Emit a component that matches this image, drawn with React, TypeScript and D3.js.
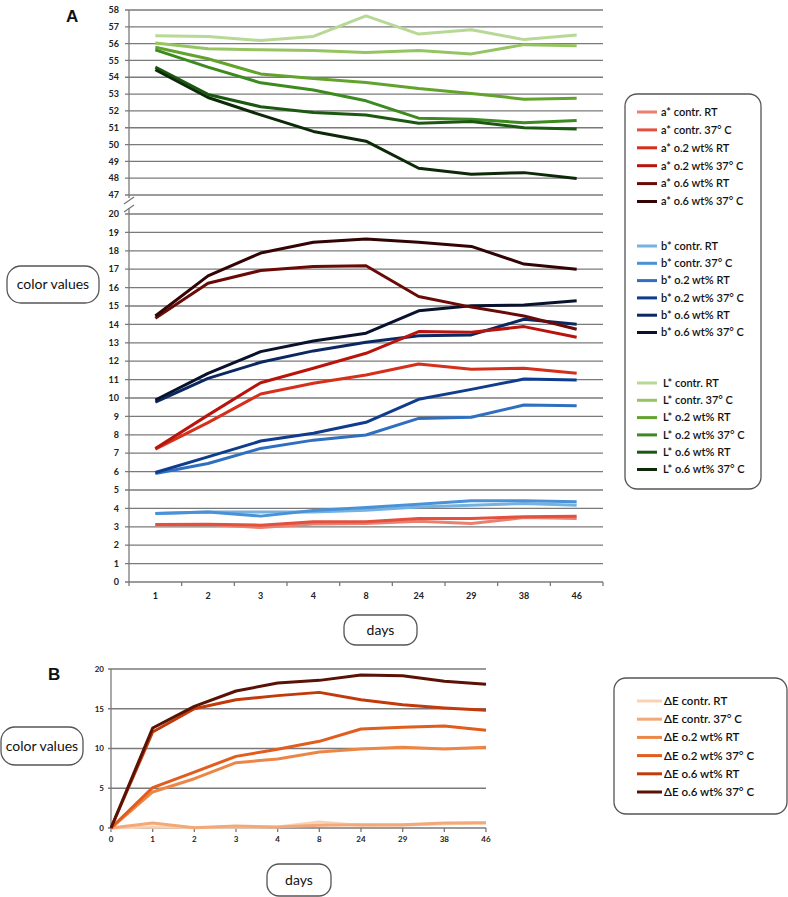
import React from "react";
import * as d3 from "d3";

const daysA = ["1", "2", "3", "4", "8", "24", "29", "38", "46"];
const daysB = ["0", "1", "2", "3", "4", "8", "24", "29", "38", "46"];

const upperTicks = [47, 48, 49, 50, 51, 52, 53, 54, 55, 56, 57, 58];
const lowerTicks = d3.range(0, 21);
const bTicks = [0, 5, 10, 15, 20];

// a* series
const aContrRT = [3.1, 3.12, 2.96, 3.15, 3.18, 3.3, 3.18, 3.5, 3.45];
const aContr37 = [3.12, 3.14, 3.09, 3.27, 3.27, 3.45, 3.45, 3.54, 3.58];
const a02RT = [7.22, 8.66, 10.22, 10.8, 11.25, 11.85, 11.56, 11.62, 11.34];
const a0237 = [7.26, 9.07, 10.83, 11.62, 12.43, 13.61, 13.57, 13.88, 13.3];
const a06RT = [14.34, 16.24, 16.93, 17.15, 17.19, 15.52, 14.94, 14.46, 13.74];
const a0637 = [14.46, 16.64, 17.88, 18.46, 18.64, 18.46, 18.24, 17.28, 17.0];

// b* series
const bContrRT = [3.72, 3.81, 3.81, 3.81, 3.9, 4.08, 4.17, 4.26, 4.17];
const bContr37 = [3.72, 3.81, 3.58, 3.88, 4.05, 4.23, 4.41, 4.41, 4.36];
const b02RT = [5.9, 6.44, 7.26, 7.71, 7.99, 8.89, 8.95, 9.62, 9.58];
const b0237 = [5.95, 6.8, 7.66, 8.08, 8.68, 9.93, 10.47, 11.03, 10.98];
const b06RT = [9.78, 11.07, 11.94, 12.56, 13.03, 13.38, 13.43, 14.28, 14.01];
const b0637 = [9.89, 11.34, 12.52, 13.1, 13.52, 14.74, 15.01, 15.06, 15.28];

// L* series
const LContrRT = [56.47, 56.43, 56.18, 56.43, 57.65, 56.57, 56.82, 56.24, 56.51];
const LContr37 = [56.04, 55.69, 55.63, 55.59, 55.47, 55.59, 55.39, 55.94, 55.88];
const L02RT = [55.78, 55.1, 54.2, 53.92, 53.69, 53.33, 53.04, 52.7, 52.75];
const L0237 = [55.63, 54.6, 53.67, 53.24, 52.6, 51.57, 51.5, 51.3, 51.43];
const L06RT = [54.6, 52.98, 52.25, 51.9, 51.76, 51.27, 51.37, 51.0, 50.92];
const L0637 = [54.45, 52.8, 51.76, 50.78, 50.2, 48.59, 48.24, 48.33, 47.98];

// ΔE series
const eContrRT = [0, 0.13, 0.05, 0.08, 0.13, 0.75, 0.3, 0.34, 0.55, 0.63];
const eContr37 = [0, 0.63, 0.04, 0.25, 0.13, 0.34, 0.42, 0.42, 0.63, 0.67];
const e02RT = [0, 4.53, 6.2, 8.22, 8.68, 9.56, 9.94, 10.15, 9.94, 10.15];
const e0237 = [0, 5.07, 7.04, 9.01, 9.9, 10.9, 12.45, 12.66, 12.83, 12.29];
const e06RT = [0, 12.08, 15.0, 16.14, 16.65, 17.06, 16.14, 15.51, 15.1, 14.8];
const e0637 = [0, 12.58, 15.3, 17.23, 18.24, 18.57, 19.25, 19.16, 18.45, 18.07];

const aNames = ["a* contr. RT", "a* contr. 37° C", "a* o.2 wt% RT", "a* o.2 wt% 37° C", "a* o.6 wt% RT", "a* o.6 wt% 37° C"];
const bNames = ["b* contr. RT", "b* contr. 37° C", "b* o.2 wt% RT", "b*  o.2 wt% 37° C", "b* o.6 wt% RT", "b* o.6 wt% 37° C"];
const LNames = ["L* contr. RT", "L* contr. 37° C", "L* o.2 wt% RT", "L* o.2 wt% 37° C", "L* o.6 wt% RT", "L* o.6 wt% 37° C"];
const eNames = ["ΔE contr. RT", "ΔE contr. 37° C", "ΔE o.2 wt% RT", "ΔE o.2 wt% 37° C", "ΔE o.6 wt% RT", "ΔE o.6 wt% 37° C"];

const aColors = ["#ec8070", "#e2503e", "#d4301c", "#b8140c", "#6a0a06", "#320404"];
const bColors = ["#74b2e2", "#4a92d8", "#2f6fc0", "#0f3c8c", "#0c2862", "#08122c"];
const LColors = ["#b8d895", "#96c462", "#62a32e", "#3c8a20", "#1d5812", "#0c2a08"];
const eColors = ["#f8d2b4", "#f2a878", "#ec8646", "#e25c1c", "#c23a0a", "#5a1206"];

const aSeries = [aContrRT, aContr37, a02RT, a0237, a06RT, a0637];
const bSeries = [bContrRT, bContr37, b02RT, b0237, b06RT, b0637];
const LSeries = [LContrRT, LContr37, L02RT, L0237, L06RT, L0637];
const eSeries = [eContrRT, eContr37, e02RT, e0237, e06RT, e0637];

const FONT = "Lato, 'Open Sans', sans-serif";
const GRID = "#7a7a7a";

function Box({ x, y, w, h, r, label, size }: any) {
  return (
    <g>
      <rect x={x} y={y} width={w} height={h} rx={r} ry={r} fill="#fff" stroke="#555" strokeWidth={1.3} />
      <text x={x + w / 2} y={y + h / 2} dy="0.35em" textAnchor="middle" fontFamily={FONT} fontSize={size} fill="#111">
        {label}
      </text>
    </g>
  );
}

export default function App() {
  // Panel A scales
  const xA = d3.scaleBand().domain(daysA).range([129, 603]);
  const yUp = d3.scaleLinear().domain([47, 58]).range([195, 10]);
  const yLo = d3.scaleLinear().domain([0, 20]).range([582, 214]);
  // Panel B scales
  const xB = d3.scalePoint().domain(daysB).range([111, 486]);
  const yB = d3.scaleLinear().domain([0, 20]).range([828, 669]);

  const lineUp = d3.line<number>().x((_, i) => (xA(daysA[i]) as number) + xA.bandwidth() / 2).y((d) => yUp(d));
  const lineLo = d3.line<number>().x((_, i) => (xA(daysA[i]) as number) + xA.bandwidth() / 2).y((d) => yLo(d));
  const lineB = d3.line<number>().x((_, i) => xB(daysB[i]) as number).y((d) => yB(d));

  const axX = 129;
  const bandEdges = daysA.map((d) => xA(d) as number).concat([603]);

  const legendRow = (names: string[], colors: string[], y0: number, step: number, lx: number, lw: number, tx: number, fs: number) =>
    names.map((n, i) => (
      <g key={n}>
        <line x1={lx} x2={lx + lw} y1={y0 + i * step} y2={y0 + i * step} stroke={colors[i]} strokeWidth={3} />
        <text x={tx} y={y0 + i * step} dy="0.35em" fontFamily={FONT} fontSize={fs} fontWeight={600} fill="#111">
          {n}
        </text>
      </g>
    ));

  return (
    <svg width={788} height={897} style={{ position: "absolute", left: 0, top: 0, background: "#fff" }}>
      <rect x={0} y={0} width={788} height={897} fill="#fff" />
      {/* Panel A */}
      <text x={66} y={22} fontFamily="Arial, 'Liberation Sans', sans-serif" fontWeight="bold" fontSize={17} fill="#111">A</text>
      {/* gridlines upper */}
      {upperTicks.map((t) => (
        <g key={"u" + t}>
          <line x1={axX - 4} x2={603} y1={yUp(t)} y2={yUp(t)} stroke={GRID} strokeWidth={1.3} />
          <text x={119} y={yUp(t)} dy="0.35em" textAnchor="end" fontFamily={FONT} fontWeight={700} fontSize={9} fill="#222">{t}</text>
        </g>
      ))}
      {lowerTicks.map((t) => (
        <g key={"l" + t}>
          <line x1={axX - 4} x2={t === 0 ? 603 : 603} y1={yLo(t)} y2={yLo(t)} stroke={GRID} strokeWidth={1.3} />
          <text x={119} y={yLo(t)} dy="0.35em" textAnchor="end" fontFamily={FONT} fontWeight={700} fontSize={9} fill="#222">{t}</text>
        </g>
      ))}
      {/* y axis with break */}
      <line x1={axX} x2={axX} y1={yUp(58)} y2={198} stroke={GRID} strokeWidth={1.3} />
      <line x1={axX} x2={axX} y1={208} y2={yLo(0)} stroke={GRID} strokeWidth={1.3} />
      <line x1={124} x2={134} y1={204} y2={197} stroke={GRID} strokeWidth={1.3} />
      <line x1={124} x2={134} y1={212} y2={205} stroke={GRID} strokeWidth={1.3} />
      {/* x ticks */}
      {bandEdges.map((e, i) => (
        <line key={"xt" + i} x1={e} x2={e} y1={yLo(0)} y2={yLo(0) + 4} stroke={GRID} strokeWidth={1.3} />
      ))}
      {daysA.map((d) => (
        <text key={"xl" + d} x={(xA(d) as number) + xA.bandwidth() / 2} y={596} dy="0.35em" textAnchor="middle" fontFamily={FONT} fontWeight={700} fontSize={9} fill="#222">{d}</text>
      ))}
      {/* lines */}
      {LSeries.map((s, i) => (
        <path key={"L" + i} d={lineUp(s) as string} fill="none" stroke={LColors[i]} strokeWidth={3} strokeLinejoin="round" />
      ))}
      {bSeries.map((s, i) => (
        <path key={"b" + i} d={lineLo(s) as string} fill="none" stroke={bColors[i]} strokeWidth={3} strokeLinejoin="round" />
      ))}
      {aSeries.map((s, i) => (
        <path key={"a" + i} d={lineLo(s) as string} fill="none" stroke={aColors[i]} strokeWidth={3} strokeLinejoin="round" />
      ))}
      {/* boxes */}
      <Box x={7} y={266} w={92} h={37} r={14} label="color values" size={14} />
      <Box x={344} y={615} w={73} h={30} r={12} label="days" size={14} />
      {/* legend A */}
      <rect x={625} y={94} width={136} height={395} rx={12} ry={12} fill="#fff" stroke="#555" strokeWidth={1.3} />
      {legendRow(aNames, aColors, 112, 17.9, 637, 20, 661, 11)}
      {legendRow(bNames, bColors, 246, 17.3, 637, 20, 661, 11)}
      {legendRow(LNames, LColors, 383, 17.3, 637, 20, 663, 11)}

      {/* Panel B */}
      <text x={48} y={680} fontFamily="Arial, 'Liberation Sans', sans-serif" fontWeight="bold" fontSize={17} fill="#111">B</text>
      {bTicks.map((t) => (
        <g key={"bt" + t}>
          <line x1={108} x2={486} y1={yB(t)} y2={yB(t)} stroke={GRID} strokeWidth={1.3} />
          <text x={104} y={yB(t)} dy="0.35em" textAnchor="end" fontFamily={FONT} fontWeight={700} fontSize={8} fill="#222">{t}</text>
        </g>
      ))}
      <line x1={111} x2={111} y1={yB(20)} y2={yB(0)} stroke={GRID} strokeWidth={1.3} />
      {daysB.map((d) => (
        <g key={"bx" + d}>
          <line x1={xB(d) as number} x2={xB(d) as number} y1={yB(0)} y2={yB(0) + 4} stroke={GRID} strokeWidth={1.3} />
          <text x={xB(d) as number} y={839} dy="0.35em" textAnchor="middle" fontFamily={FONT} fontWeight={700} fontSize={8} fill="#222">{d}</text>
        </g>
      ))}
      {eSeries.map((s, i) => (
        <path key={"e" + i} d={lineB(s) as string} fill="none" stroke={eColors[i]} strokeWidth={3} strokeLinejoin="round" />
      ))}
      <Box x={1} y={727} w={82} h={38} r={14} label="color values" size={14} />
      <Box x={267} y={864} w={64} h={32} r={12} label="days" size={14} />
      {/* legend B */}
      <rect x={614} y={678} width={173} height={136} rx={12} ry={12} fill="#fff" stroke="#555" strokeWidth={1.3} />
      {legendRow(eNames, eColors, 701, 18.2, 637, 25, 664, 11.5)}
    </svg>
  );
}
